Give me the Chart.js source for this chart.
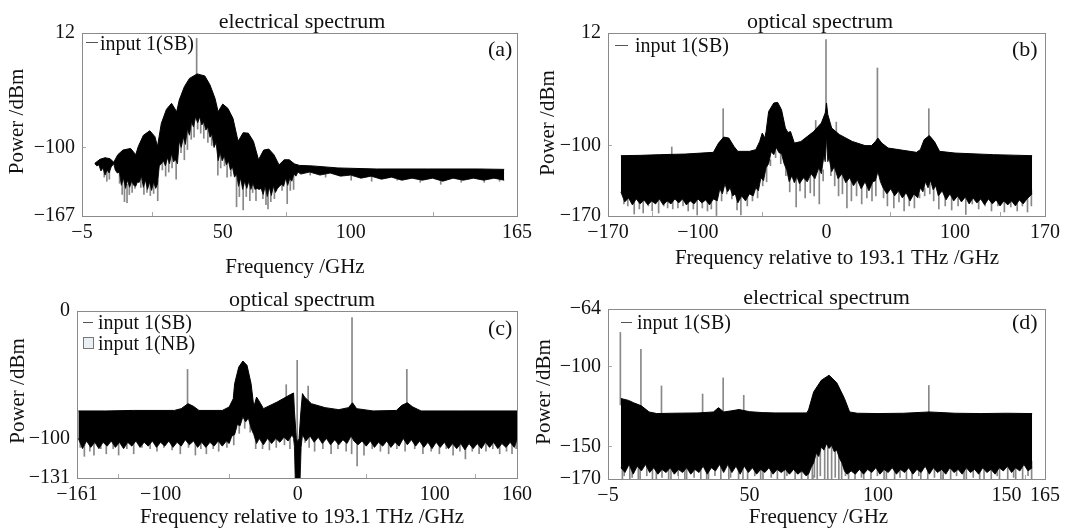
<!DOCTYPE html>
<html>
<head>
<meta charset="utf-8">
<style>
html, body { margin: 0; background: #fff; overflow: hidden; width: 1066px; height: 528px; }
.panel { position: absolute; }
.note { position: absolute; font: 20px "Liberation Serif", serif; color: #111; line-height: 20px; white-space: nowrap; }
.dash { position: absolute; height: 1px; background: #555; }
.swatch { position: absolute; background: #e8f0f6; border: 1px solid #777; box-sizing: border-box; }
</style>
<script src="https://cdn.jsdelivr.net/npm/chart.js@4"></script>
</head>
<body>
<canvas class="panel" id="chartA"></canvas>
<canvas class="panel" id="chartB"></canvas>
<canvas class="panel" id="chartC"></canvas>
<canvas class="panel" id="chartD"></canvas>
<script>
// (a) electrical spectrum
const freqA = [0,2,4,6,7.4,9,11,14,16,17,19,21.5,23.5,24.5,26,28,30,32,33,35,37,40,43,45,47,48.2,50,52,54,56,58,60,62,64,66,68,70,72,74,76,78,80,85,95,110,130,150,160];
const topA = [-115.5,-111.6,-110,-111,-114.5,-107,-102.5,-100.9,-107,-99,-88,-83.6,-89.4,-99,-76.4,-62.7,-56.8,-65,-53.6,-40.5,-32.4,-28,-30,-38.7,-52,-65,-57.5,-61.7,-71.5,-94,-85.5,-86,-94,-112,-102.5,-101.5,-107,-117,-112,-112,-116,-117.5,-118,-120,-121,-121,-121,-121.4];
const lowFreqA = [0,0.8,1.6,2.4,3.2,4,4.8,5.6,6.4,7.4,8,8.8,9.6,10.4,11.2,12,12.8,13.6,14.4,15.2,16,16.6,17.4,18.2,19,19.8,20.6,21.4,22.2,23,23.8,24.5,25.2,26,26.8,27.6,28.4,29.2,30,30.8,31.6,32.3,33,33.8,34.6,35.4,36.2,37,37.8,38.6,39.4,40.2,41,41.8,42.6,43.4,44.2,45,45.8,46.6,47.4,48.2,49,49.8,50.6,51.4,52.2,53,53.8,54.6,55.4,56.2,57,57.8,58.6,59.4,60.2,61,61.8,62.6,63.4,64.2,65,65.8,66.6,67.4,68.2,69,69.8,70.6,71.4,72.2,73,73.8,74.6,75.4,76.2,77,77.8,78.6,79.4,80.5,84,88,92,96,100,104,108,112,116,120,124,128,132,136,140,144,148,152,156,160];
const lowA = [-116,-118,-117,-123,-120,-127,-122,-125,-119,-116,-122,-125,-124,-137,-130,-140,-132,-139,-133,-137,-138,-134,-134,-128,-139,-132,-141,-134,-142,-134,-140,-136,-118,-116,-113,-118,-110,-116,-106,-114,-112,-116,-94,-100,-90,-97,-82,-88,-75,-80,-70,-76,-70,-78,-75,-83,-80,-90,-87,-100,-95,-113,-105,-113,-108,-117,-113,-122,-119,-129,-126,-138,-130,-141,-133,-140,-133,-141,-135,-141,-140,-141,-140,-146,-138,-148,-139,-147,-138,-144,-140,-138,-136,-138,-130,-137,-130,-133,-126,-128,-124,-126,-124,-127,-125,-128,-127,-130,-128,-131,-129,-132,-130,-132,-130,-133,-130,-132,-130,-132,-130,-132];
const peakFreqA = [40];
const peakTipA = [6.8];
const dipFreqA = [3.5,4.5,5.5,9.5,10.5,11.4,12.4,13.3,14.4,15.5,17.8,19,20.2,21.5,22.8,24.4,26.2,27.5,28.7,30,31.6,33.5,34.8,36,37.5,38.6,40,41.2,42.4,44,45.5,47.9,49,50.5,51.5,53,55.2,56.3,57.8,59,60.4,61.5,62.8,64,65.5,66.7,67.5,68.6,70,71,73,75,76.2,77.5,84,90,100,108,118,127,135,143,152,158];
const dipTipA = [-129,-133,-131,-135,-146,-153,-154,-146,-144,-140,-139,-146,-144,-147,-145,-152,-122,-128,-124,-120,-131,-105,-112,-102,-92,-90,-82,-86,-91,-95,-98,-127,-120,-118,-129,-128,-158,-148,-161,-148,-152,-144,-152,-138,-150,-156,-160,-153,-150,-140,-142,-155,-142,-141,-127,-129,-132,-133,-132,-134,-136,-134,-134,-133];
const xTicksA = [-5,50,100,165];
const xLabelsA = ['\u22125','50','100','165'];
const yTicksA = [12,-100,-167];
const yLabelsA = ['12','\u2212100','\u2212167'];

// (b) optical spectrum
const freqB = [-160,-145,-130,-110,-88,-84,-80,-76,-72,-69,-60,-55,-52,-50,-48,-47,-45,-41,-38,-35,-32,-30,-28,-25,-20,-10,-4,-1,0,1,4,10,20,30,35,38,40,43,48,70,73,76,80,84,88,100,130,160];
const topB = [-110,-109.7,-109,-108.4,-106.7,-97.5,-91.5,-92.5,-100.8,-105.7,-105.7,-104,-96,-87.5,-92.5,-86,-66,-57.6,-57,-64.3,-82.5,-87,-86,-97.5,-96,-86,-77.5,-67.6,-57.6,-69,-82.5,-89,-95.8,-100,-100,-96,-92.5,-97.5,-102.4,-106.7,-104,-94,-90,-96,-105.7,-107.4,-109,-110];
const lowFreqB = [-160,-157,-154,-151,-148,-145,-142,-139,-136,-133,-130,-127,-124,-121,-118,-115,-112,-109,-106,-103,-100,-97,-94,-91,-88,-85,-83,-81,-79,-77,-75,-73,-71,-69,-66,-63,-60,-57,-55,-53,-51,-49,-47,-45,-43,-41,-39,-37,-35,-33,-31,-29,-27,-25,-23,-21,-18,-15,-12,-9,-6,-4,-2,-1,0,1,2,4,6,9,12,15,18,21,24,27,30,33,36,38,40,42,44,47,50,53,56,59,62,65,68,71,73,75,77,79,81,83,85,87,90,93,96,99,102,105,108,111,114,117,120,123,126,129,132,135,138,141,144,147,150,153,156,160];
const lowB = [-146,-156,-152,-159,-153,-158,-154,-159,-155,-158,-153,-159,-155,-158,-153,-157,-153,-159,-155,-158,-153,-157,-154,-159,-153,-155,-143,-148,-138,-146,-142,-150,-148,-157,-150,-155,-148,-150,-142,-145,-132,-135,-122,-118,-106,-109,-102,-107,-108,-118,-124,-136,-130,-137,-131,-138,-132,-136,-128,-133,-122,-128,-110,-116,-92,-116,-112,-126,-121,-133,-128,-137,-132,-140,-134,-143,-136,-145,-136,-135,-126,-136,-142,-148,-143,-150,-145,-152,-147,-155,-148,-152,-142,-146,-136,-142,-135,-144,-140,-150,-145,-154,-148,-155,-150,-156,-151,-158,-152,-157,-153,-159,-153,-158,-154,-160,-155,-159,-155,-160,-154,-158,-153,-148];
const peakFreqB = [-120,-80,-8,0,8,40,80];
const peakTipB = [-101.4,-63.3,-75,5.4,-76.6,-22.8,-63.3];
const dipFreqB = [-158,-155,-150,-146,-143,-139,-136,-131,-127,-124,-120,-116,-112,-108,-104,-101,-97,-93,-90,-86,-82,-78,-74,-70,-67,-62,-58,-54,-50,-47,-44,-40,-36,-32,-29,-24,-21,-17,-13,-10,-6,-3,3,6,9,12,15.5,19,23,27,31,35,38,44,47,52,56,60,64,68,72,76,80,83,87,92,97,102,108,113,118,123,128,133,138,143,148,152,156,159];
const dipTipB = [-158,-160,-168,-163,-167,-160,-165,-167,-160,-162,-163,-162,-160,-165,-163,-169,-162,-165,-163,-169.5,-155,-148,-153,-164,-169,-160,-155,-152,-140,-136,-120,-112,-118,-130,-146,-161,-145,-152,-147,-150,-158,-135,-130,-140,-150,-148,-162,-155,-150,-158,-152,-155,-150,-152,-160,-162,-156,-165,-160,-162,-152,-150,-148,-155,-163,-160,-164,-160,-168.5,-158,-163,-160,-165,-160,-166,-161,-165,-160,-166,-160];
const xTicksB = [-170,-100,0,100,170];
const xLabelsB = ['\u2212170','\u2212100','0','100','170'];
const yTicksB = [12,-100,-170];
const yLabelsB = ['12','\u2212100','\u2212170'];

// (c) optical spectrum, centre notched
const freqC = [-160,-140,-120,-90,-85,-80,-76,-72,-55,-50,-47,-46,-43,-40,-37,-34,-32,-30,-27,-25,-15,-5,-3,-2.4,-1,0,1,2.4,3.5,5,10,20,30,37,40,43,55,72,76,80,84,90,120,160];
const topC = [-78.4,-78.4,-78,-78,-76.6,-72.7,-74.8,-78,-78,-75.3,-68.8,-57,-44,-39.2,-42.6,-57,-75.3,-67.5,-72.7,-76.6,-71.4,-65.4,-64.3,-78,-100,-103,-100,-78,-64.8,-67.5,-72.7,-75.8,-77.4,-75.8,-72,-76.6,-78.4,-78,-74,-72,-75.3,-78.4,-78.4,-78.4];
const lowFreqC = [-160,-157,-154,-151,-148,-145,-142,-139,-136,-133,-130,-127,-124,-121,-118,-115,-112,-109,-106,-103,-100,-97,-94,-91,-88,-85,-82,-79,-76,-73,-70,-67,-64,-61,-58,-55,-52,-50,-48,-46,-44,-42,-40,-38,-36,-34,-32,-30,-28,-25,-22,-19,-16,-13,-10,-7,-4,-3,-2.4,-1.8,1.8,2.5,3.5,6,9,12,15,18,21,24,27,30,33,36,39,41,44,47,50,53,56,59,62,65,68,71,74,77,80,83,86,89,92,95,98,101,104,107,110,113,116,119,122,125,128,131,134,137,140,143,146,149,152,155,158,160];
const lowC = [-100,-108,-102,-107,-103,-108,-103,-106,-102,-107,-103,-108,-103,-106,-102,-107,-103,-106,-102,-107,-103,-106,-102,-107,-103,-106,-101,-105,-102,-107,-103,-107,-103,-106,-102,-106,-102,-104,-98,-97,-89,-90,-83,-87,-84,-92,-97,-104,-100,-105,-100,-104,-100,-103,-99,-102,-97,-100,-106,-131,-131,-107,-97,-102,-98,-103,-99,-104,-100,-105,-101,-105,-101,-104,-98,-102,-105,-102,-106,-102,-107,-103,-106,-102,-107,-103,-106,-100,-105,-101,-106,-102,-107,-103,-108,-103,-107,-103,-108,-104,-108,-104,-109,-104,-108,-104,-108,-103,-107,-103,-108,-104,-107,-103,-107,-101];
const peakFreqC = [-80,-8,0,8,40,80];
const peakTipC = [-45.8,-57.8,-38.7,-58.8,-5.2,-45.8];
const dipFreqC = [-159,-156,-152,-149,-144,-140,-135,-131,-125,-120,-114,-108,-103,-98,-92,-86,-80,-75,-71,-67,-62,-58,-52,-47,-43,-39,-35,-31,-26,-21,-16,-10,-6,5,8,12,18,24,29,35,39,43,48,54,60,66,72,78,85,91,97,103,108,113,118,122,127,132,137,142,147,152,156,159];
const dipTipC = [-107,-114,-110,-113,-108,-112,-108,-113,-108,-112,-107,-108,-110,-107,-109,-112,-107,-113,-108,-112,-108,-110,-107,-105,-96,-92,-95,-108,-108,-109,-107,-105,-108,-103,-107,-110,-108,-112,-108,-110,-112,-121.6,-113,-108,-110,-112,-108,-110,-108,-112,-110,-112,-108,-113,-110,-116,-110,-112,-110,-108,-112,-110,-112,-108];
const xTicksC = [-161,-100,0,100,160];
const xLabelsC = ['\u2212161','\u2212100','0','100','160'];
const yTicksC = [0,-100,-131];
const yLabelsC = ['0','\u2212100','\u2212131'];

// (d) electrical spectrum
const freqD = [0,3,5,8,11,14,20,30,36,38,40,43,46,50,55,60,65,72.3,73,75,78,81,84,87,89,92,100,110,120,130,140,150,160];
const topD = [-119.8,-121,-122.5,-124.4,-128.2,-129.2,-129,-128.8,-128.2,-125.5,-128.2,-127.5,-126.7,-128,-128.6,-128.8,-128.8,-128.8,-127,-115.7,-108.4,-105.3,-110,-119.8,-128.2,-129,-129.2,-129,-128.2,-129,-129.2,-129,-129.2];
const lowFreqD = [0,1.6,3.2,4.8,6.4,8,9.6,11.2,12.8,14.4,16,17.6,19.2,20.8,22.4,24,25.6,27.2,28.8,30.4,32,33.6,35.2,36.8,38.4,40,41.6,43.2,44.8,46.4,48,49.6,51.2,52.8,54.4,56,57.6,59.2,60.8,62.4,64,65.6,67.2,68.8,70.4,72,73,74,75,76,77,78,79,80,81,82,83,84,85,86,87,88,89.6,91.2,92.8,94.4,96,97.6,99.2,100.8,102.4,104,105.6,107.2,108.8,110.4,112,113.6,115.2,116.8,118.4,120,121.6,123.2,124.8,126.4,128,129.6,131.2,132.8,134.4,136,137.6,139.2,140.8,142.4,144,145.6,147.2,148.8,150.4,152,153.6,155.2,156.8,158.4,160];
const lowD = [-163,-166,-161,-167,-162,-165,-161,-166,-163,-167,-164,-166,-163,-167,-164,-166,-163,-167,-164,-166,-162,-167,-163,-165,-161,-166,-161,-166,-162,-167,-162,-166,-163,-167,-164,-166,-163,-167,-164,-166,-164,-167,-164,-167,-165,-168,-167,-163,-160,-154,-156,-150,-152,-148,-151,-149,-153,-152,-157,-160,-165,-167,-165,-167,-164,-167,-164,-166,-163,-167,-164,-166,-163,-167,-164,-166,-163,-167,-164,-166,-162,-167,-163,-166,-164,-167,-163,-166,-164,-167,-163,-166,-164,-167,-163,-166,-164,-167,-163,-165,-162,-166,-163,-165,-161,-165,-163];
const peakFreqD = [0,8,16,32,40,48,120];
const peakTipD = [-78.6,-89.2,-112,-117,-107,-117.8,-111.7];
const dipFreqD = [0.4,1.1,3.3,4.2,6.6,7.3,9.9,12.1,13.6,15.8,18.4,19.3,22.1,24.7,25.4,28.3,30.9,33.2,33.9,36.4,38.7,41.8,42.5,45.6,47.3,49.1,51.9,54.2,55.1,58.3,60.7,63.5,64.4,67.6,70.1,72.6,74.3,75.1,76.2,77.4,79.1,80.3,81.8,83.2,84.6,85.7,87.2,88.4,90.9,93.4,94.3,97.1,99.6,102.2,103.1,106.3,108.4,110.9,113.1,115.7,116.5,119.2,121.8,124.3,125.2,128.1,130.4,133.3,134.2,136.9,139.4,141.1,143.9,146.2,147.1,150.3,152.6,153.4,156.1,158.2,159.6];
const dipTipD = [-170,-168,-170,-169,-170,-170,-168,-170,-170,-169,-170,-170,-168,-170,-170,-169,-170,-170,-170,-168,-170,-170,-169,-170,-170,-170,-168,-170,-170,-169,-170,-170,-168,-170,-170,-170,-170,-169,-170,-168,-170,-170,-170,-169,-170,-170,-168,-170,-170,-169,-170,-170,-168,-170,-170,-170,-169,-170,-170,-168,-170,-170,-169,-170,-170,-170,-168,-170,-170,-169,-170,-170,-170,-168,-170,-170,-169,-170,-170,-168,-170];
const xTicksD = [-5,50,100,150,165];
const xLabelsD = ['\u22125','50','100','150','165'];
const yTicksD = [-64,-100,-150,-170];
const yLabelsD = ['\u221264','\u2212100','\u2212150','\u2212170'];

const titleText = ['electrical spectrum', 'optical spectrum', 'optical spectrum', 'electrical spectrum'];
const xTitleText = ['Frequency /GHz', 'Frequency relative to 193.1 THz /GHz', 'Frequency relative to 193.1 THz /GHz', 'Frequency /GHz'];
const yTitleText = 'Power /dBm';
const sbLabel = 'input 1(SB)';
const nbLabel = 'input 1(NB)';

const SERIF = '"Liberation Serif", serif';
const BOX = '#8a8a8a';

function nearest(freq, vals, f) {
    let best = 0;
    freq.forEach((v, i) => { if (Math.abs(v - f) < Math.abs(freq[best] - f)) best = i; });
    return vals[best];
}

// keeps the box round the plot, the reference draws all four sides
const boxPlugin = {
    id: 'box',
    afterDatasetsDraw(chart) {
        const { ctx, chartArea: a } = chart;
        ctx.save();
        ctx.strokeStyle = BOX;
        ctx.lineWidth = 1;
        ctx.strokeRect(a.left + 0.5, a.top + 0.5, a.width, a.height);
        ctx.restore();
    }
};

// small offsets for the titles, the reference does not centre them on the box
const nudgePlugin = {
    id: 'nudge',
    afterLayout(chart, args, opts) {
        chart.titleBlock.left += opts.title;
        chart.titleBlock.right += opts.title;
        [['x', opts.xTitle, 0], ['y', 0, opts.yTitle]].forEach(([id, dx, dy]) => {
            const scale = chart.scales[id];
            if (scale._nudged) return;
            const draw = scale.drawTitle;
            scale.drawTitle = function () {
                this.ctx.save();
                this.ctx.translate(dx, dy);
                draw.call(this);
                this.ctx.restore();
            };
            scale._nudged = true;
        });
    }
};

function makePanel(p) {
    const canvas = document.getElementById(p.id);
    canvas.style.left = p.left + 'px';
    canvas.style.top = p.top + 'px';
    canvas.width = p.width;
    canvas.height = p.height;
    canvas.style.width = p.width + 'px';
    canvas.style.height = p.height + 'px';

    const peaks = p.peakFreq.map((f, i) => ({ x: f, y: [nearest(p.freq, p.high, f) - 4, p.peakTip[i]] }));
    const dips = p.dipFreq.map((f, i) => ({ x: f, y: [p.dipTip[i], nearest(p.lowFreq, p.low, f) + 4] }));

    new Chart(canvas, {
        data: {
            datasets: [
                { type: 'line', label: 'top', data: p.freq.map((f, i) => ({ x: f, y: p.high[i] })), borderColor: '#000', backgroundColor: '#000', borderWidth: 1, pointRadius: 0, fill: '+1', order: 1 },
                { type: 'line', label: 'low', data: p.lowFreq.map((f, i) => ({ x: f, y: p.low[i] })), borderColor: '#222', borderWidth: 1, pointRadius: 0, fill: false, order: 1 },
                { type: 'bar', label: 'peaks', data: peaks, backgroundColor: '#888', barThickness: 1, order: 2 },
                { type: 'bar', label: 'dips', data: dips, backgroundColor: '#888', barThickness: 1, order: 2 }
            ]
        },
        options: {
            responsive: false,
            animation: false,
            layout: { padding: { right: p.width - p.plotRight } },
            plugins: {
                legend: { display: false },
                tooltip: { enabled: false },
                title: {
                    display: true, text: p.title, color: '#111', fullSize: false,
                    font: { family: SERIF, size: 22, weight: 'normal', lineHeight: 1 },
                    padding: { top: p.titleTop, bottom: 0 }
                },
                nudge: p.nudge
            },
            scales: {
                x: {
                    type: 'linear', offset: false, min: p.xMin, max: p.xMax,
                    afterFit: s => { s.height = p.height - p.plotBottom; s.paddingLeft = 0; s.paddingRight = 0; },
                    afterBuildTicks: s => { s.ticks = p.xTicks.map(v => ({ value: v })); },
                    grid: { display: true, drawOnChartArea: false, tickLength: -4, tickColor: '#aaa' },
                    border: { color: BOX },
                    ticks: {
                        autoSkip: false, maxRotation: 0, minRotation: 0, color: '#111', padding: 9,
                        font: { family: SERIF, size: 20 },
                        callback: (v, i) => p.xLabels[i]
                    },
                    title: {
                        display: true, text: p.xTitle, color: '#111',
                        font: { family: SERIF, size: 21, lineHeight: 1 },
                        padding: { top: 0, bottom: p.xTitlePad }
                    }
                },
                y: {
                    min: p.yMin, max: p.yMax,
                    afterFit: s => { s.width = p.plotLeft; s.paddingTop = 0; s.paddingBottom = 0; },
                    afterBuildTicks: s => { s.ticks = p.yTicks.map(v => ({ value: v })); },
                    grid: { display: true, drawOnChartArea: false, tickLength: -4, tickColor: '#aaa' },
                    border: { color: BOX },
                    ticks: {
                        autoSkip: false, color: '#111', padding: 11,
                        font: { family: SERIF, size: 20 },
                        callback: (v, i) => p.yLabels[i]
                    },
                    title: {
                        display: true, text: yTitleText, color: '#111',
                        font: { family: SERIF, size: 21, lineHeight: 1 },
                        padding: { top: p.yTitlePad, bottom: 0 }
                    }
                }
            }
        },
        plugins: [boxPlugin, nudgePlugin]
    });
}

makePanel({
    id: 'chartA', left: 0, top: 0, width: 533, height: 285,
    plotLeft: 82, plotRight: 517, plotBottom: 216, titleTop: 11, xTitlePad: 7.5, yTitlePad: 6.5,
    title: titleText[0], xTitle: xTitleText[0], nudge: { title: 2.5, xTitle: -4.5, yTitle: -3 },
    xMin: -5, xMax: 165, yMin: -167, yMax: 12,
    freq: freqA, high: topA, lowFreq: lowFreqA, low: lowA, peakFreq: peakFreqA, peakTip: peakTipA, dipFreq: dipFreqA, dipTip: dipTipA,
    xTicks: xTicksA, xLabels: xLabelsA, yTicks: yTicksA, yLabels: yLabelsA
});
makePanel({
    id: 'chartB', left: 533, top: 0, width: 533, height: 285,
    plotLeft: 75, plotRight: 512, plotBottom: 216, titleTop: 11, xTitlePad: 16.5, yTitlePad: 4.5,
    title: titleText[1], xTitle: xTitleText[1], nudge: { title: -6.5, xTitle: 10.5, yTitle: -1.5 },
    xMin: -170, xMax: 170, yMin: -170, yMax: 12,
    freq: freqB, high: topB, lowFreq: lowFreqB, low: lowB, peakFreq: peakFreqB, peakTip: peakTipB, dipFreq: dipFreqB, dipTip: dipTipB,
    xTicks: xTicksB, xLabels: xLabelsB, yTicks: yTicksB, yLabels: yLabelsB
});
makePanel({
    id: 'chartC', left: 0, top: 289, width: 533, height: 239,
    plotLeft: 77, plotRight: 517, plotBottom: 189, titleTop: 0, xTitlePad: 0, yTitlePad: 8,
    title: titleText[2], xTitle: xTitleText[2], nudge: { title: 5, xTitle: 5, yTitle: -3.5 },
    xMin: -161, xMax: 160, yMin: -131, yMax: 0,
    freq: freqC, high: topC, lowFreq: lowFreqC, low: lowC, peakFreq: peakFreqC, peakTip: peakTipC, dipFreq: dipFreqC, dipTip: dipTipC,
    xTicks: xTicksC, xLabels: xLabelsC, yTicks: yTicksC, yLabels: yLabelsC
});
makePanel({
    id: 'chartD', left: 533, top: 287, width: 533, height: 241,
    plotLeft: 75, plotRight: 512, plotBottom: 192, titleTop: 0, xTitlePad: 0, yTitlePad: 1,
    title: titleText[3], xTitle: xTitleText[3], nudge: { title: 0, xTitle: -8, yTitle: -2 },
    xMin: -5, xMax: 165, yMin: -170, yMax: -64,
    freq: freqD, high: topD, lowFreq: lowFreqD, low: lowD, peakFreq: peakFreqD, peakTip: peakTipD, dipFreq: dipFreqD, dipTip: dipTipD,
    xTicks: xTicksD, xLabels: xLabelsD, yTicks: yTicksD, yLabels: yLabelsD
});

// legends and panel letters sit inside the plot boxes
function addNote(text, x, y, size) {
    const el = document.createElement('div');
    el.className = 'note';
    el.textContent = text;
    el.style.left = x + 'px';
    el.style.top = (y - 10) + 'px';
    if (size) el.style.fontSize = size + 'px';
    document.body.appendChild(el);
}
function addDash(x, y, w) {
    const el = document.createElement('div');
    el.className = 'dash';
    el.style.left = x + 'px';
    el.style.top = y + 'px';
    el.style.width = w + 'px';
    document.body.appendChild(el);
}

addDash(86, 42, 12); addNote(sbLabel, 100, 43);
addDash(615, 45, 13); addNote(sbLabel, 635, 45);
addDash(83, 322, 10); addNote(sbLabel, 98, 322);
addNote(nbLabel, 98, 343);
const swatch = document.createElement('div');
swatch.className = 'swatch';
swatch.style.cssText = 'left:83px;top:337px;width:11px;height:12px';
document.body.appendChild(swatch);
addDash(621, 322, 11); addNote(sbLabel, 637, 322);

addNote('(a)', 488, 49, 22);
addNote('(b)', 1012, 49, 22);
addNote('(c)', 488, 328, 22);
addNote('(d)', 1012, 322, 22);
</script>
</body>
</html>
